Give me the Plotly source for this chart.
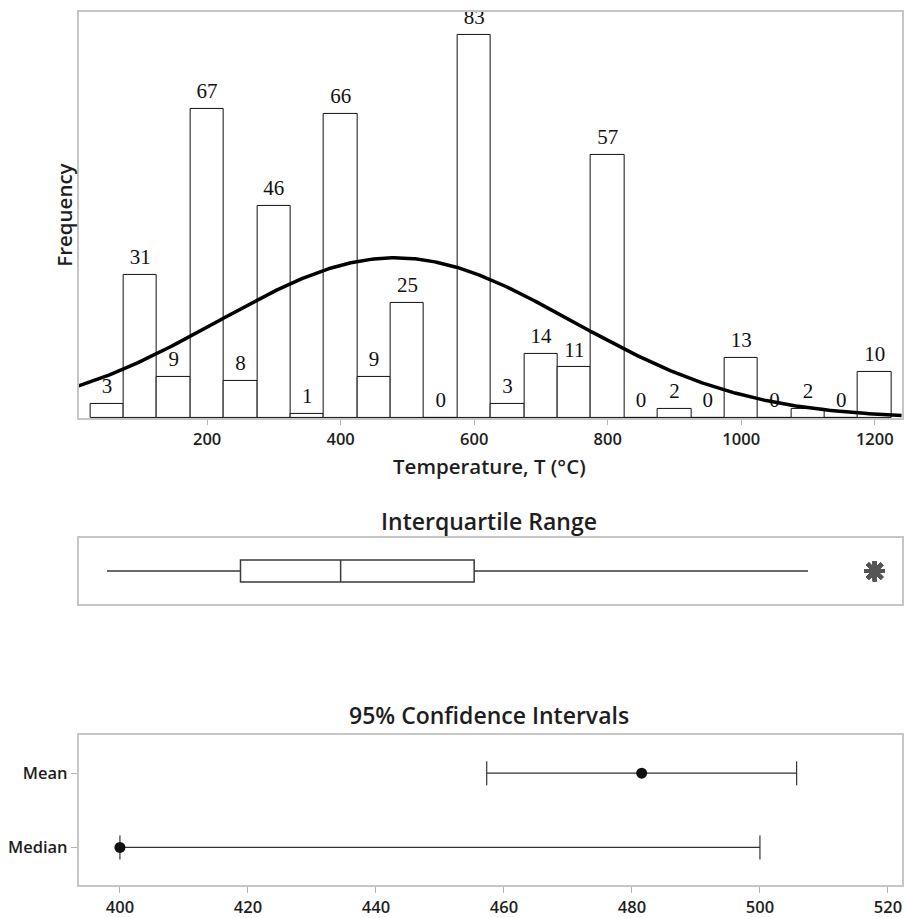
import numpy as np
import plotly.graph_objects as go

# Histogram bins: centre temperature (°C) and number of observations
bin_centers = [50, 100, 150, 200, 250, 300, 350, 400, 450, 500, 550, 600,
               650, 700, 750, 800, 850, 900, 950, 1000, 1050, 1100, 1150, 1200]
counts = [3, 31, 9, 67, 8, 46, 1, 66, 9, 25, 0, 83,
          3, 14, 11, 57, 0, 2, 0, 13, 0, 2, 0, 10]
bin_width = 50

# Nonparametric 95% interval for the median
median_ci = [400, 500]
ci_labels = ["Median", "Mean"]
hist_ticks = [200, 400, 600, 800, 1000, 1200]
ci_ticks = [400, 420, 440, 460, 480, 500, 520]

# Individual observations rebuilt from the bin counts
values = np.repeat(bin_centers, counts).astype(float)
n = len(values)
mean = values.mean()
sd = values.std(ddof=1)
median = float(np.median(values))
t975 = 1.9652
half = t975 * sd / np.sqrt(n)
mean_ci = [mean - half, mean + half]

X_RANGE = [7.6, 1240.4]

# Fitted normal curve, scaled to frequency per bin
xs = np.linspace(X_RANGE[0], X_RANGE[1], 500)
ys = n * bin_width / (sd * np.sqrt(2 * np.pi)) * np.exp(-0.5 * ((xs - mean) / sd) ** 2)

SANS = "Open Sans"
TXT = "#1e1e1e"
FRAME = "#c6c6c6"
TICKC = "#b4b4b4"

fig = go.Figure()

fig.add_trace(go.Bar(
    x=bin_centers, y=counts, width=bin_width,
    marker=dict(color="white", line=dict(color="#111", width=1)),
    xaxis="x", yaxis="y", showlegend=False, hoverinfo="skip",
))

# Count labels above each bar (drawn beneath the fitted curve)
fig.add_trace(go.Scatter(
    x=bin_centers, y=counts, mode="markers+text",
    text=[str(c) for c in counts], textposition="top center",
    textfont=dict(family="Liberation Serif", size=21, color="#111"),
    marker=dict(size=7.2, color="rgba(0,0,0,0)"),
    cliponaxis=False, xaxis="x", yaxis="y", showlegend=False, hoverinfo="skip",
))

fig.add_trace(go.Scatter(
    x=xs, y=ys, mode="lines", line=dict(color="#000", width=3.5),
    xaxis="x", yaxis="y", showlegend=False, hoverinfo="skip",
))

fig.add_trace(go.Box(
    x=values, y0=0, orientation="h", width=1,
    boxpoints="outliers", jitter=0, pointpos=0, whiskerwidth=0,
    fillcolor="white", line=dict(color="#3a3a3a", width=1.5),
    marker=dict(symbol="asterisk-open", size=17, color="#555",
                line=dict(width=4, color="#555")),
    xaxis="x2", yaxis="y2", showlegend=False, hoverinfo="skip",
))

fig.add_trace(go.Scatter(
    x=[median, mean], y=[0, 1], mode="markers",
    marker=dict(color="#111", size=11),
    error_x=dict(type="data", symmetric=False,
                 array=[median_ci[1] - median, mean_ci[1] - mean],
                 arrayminus=[median - median_ci[0], mean - mean_ci[0]],
                 width=12, thickness=1.2, color="#333"),
    xaxis="x3", yaxis="y3", showlegend=False, hoverinfo="skip",
))

frame = dict(showline=True, linecolor=FRAME, linewidth=1.5, mirror=True,
             showgrid=False, zeroline=False)
tickfont = dict(family=SANS, size=16.5, color=TXT, weight=600)
title_font = dict(family=SANS, size=23, color=TXT, weight=600)
axis_title_font = dict(family=SANS, size=20.5, color=TXT, weight=600)

fig.update_layout(
    width=904, height=918,
    margin=dict(l=0, r=0, t=0, b=0),
    paper_bgcolor="white", plot_bgcolor="white",
    bargap=0,
    xaxis=dict(domain=[0.0871, 0.9986], range=X_RANGE, tickvals=hist_ticks,
               ticks="outside", ticklen=5, tickcolor=TICKC, tickfont=tickfont,
               anchor="y", **frame),
    yaxis=dict(domain=[0.5411, 0.9869], range=[0, 88], showticklabels=False,
               ticks="", anchor="x", **frame),
    xaxis2=dict(domain=[0.0871, 0.9986], range=X_RANGE, showticklabels=False,
                ticks="", anchor="y2", **frame),
    yaxis2=dict(domain=[0.3369, 0.4093], range=[-1.5, 1.5], type="linear",
                showticklabels=False, ticks="", anchor="x2", **frame),
    xaxis3=dict(domain=[0.0871, 0.9992], range=[393.55, 522.24], tickvals=ci_ticks,
                ticks="outside", ticklen=6, tickcolor=TICKC, tickfont=tickfont,
                anchor="y3", **frame),
    yaxis3=dict(domain=[0.0283, 0.1928], range=[-0.51, 1.51], tickvals=[0, 1],
                ticktext=ci_labels, ticks="outside", ticklen=6, tickcolor=TICKC,
                tickfont=tickfont, anchor="x3", **frame),
    annotations=[
        dict(text="Frequency", x=64 / 904, y=1 - 216.5 / 918, xref="paper", yref="paper",
             textangle=-90, showarrow=False, xanchor="center", yanchor="middle",
             font=axis_title_font),
        dict(text="Temperature, T (°C)", x=490 / 904, y=1 - 470 / 918,
             xref="paper", yref="paper", showarrow=False,
             xanchor="center", yanchor="middle", font=axis_title_font),
        dict(text="Interquartile Range", x=490 / 904, y=1 - 525 / 918,
             xref="paper", yref="paper", showarrow=False,
             xanchor="center", yanchor="middle", font=title_font),
        dict(text="95% Confidence Intervals", x=490 / 904, y=1 - 720 / 918,
             xref="paper", yref="paper", showarrow=False,
             xanchor="center", yanchor="middle", font=title_font),
    ],
)

fig.write_html("out.html")
